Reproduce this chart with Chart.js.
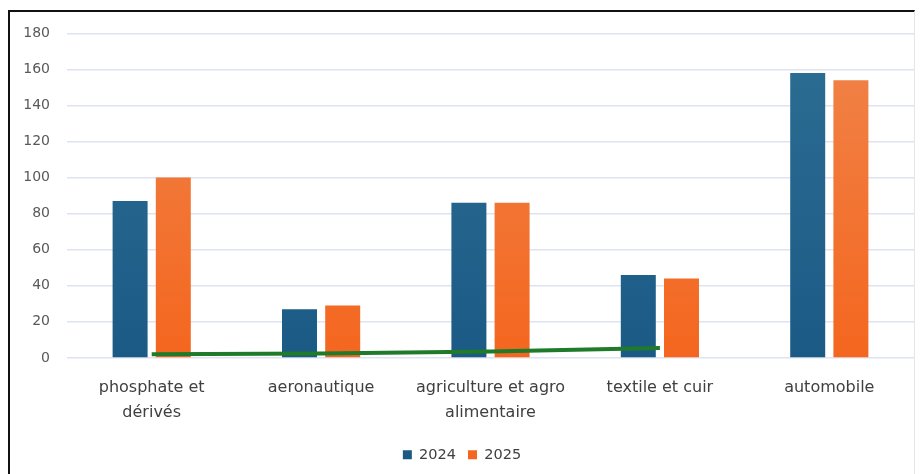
<!DOCTYPE html>
<html>
<head>
<meta charset="utf-8">
<script src="https://cdn.jsdelivr.net/npm/chart.js@4.4.1/dist/chart.umd.min.js"></script>
<style>
    html, body { margin: 0; padding: 0; background: #fff; overflow: hidden; }
    #wrap {
        position: absolute;
        left: 8px;
        top: 10px;
        width: 904px;
        height: 464px;
        border-left: 2px solid #111;
        border-top: 2px solid #111;
        border-right: 1px solid #e6e6e6;
    }
    #inner {
        position: absolute;
        left: 0;
        top: -4px;
        width: 100%;
        height: 476px;
    }
</style>
</head>
<body>
<div id="wrap"><div id="inner"><canvas id="chart"></canvas></div></div>
<script>
// Data
const categories = [
    ['phosphate et', 'dérivés'],
    ['aeronautique'],
    ['agriculture et agro', 'alimentaire'],
    ['textile et cuir'],
    ['automobile']
];
const values2024 = [87, 27, 86, 46, 158];
const values2025 = [100, 29, 86, 44, 154];
const trendLine = [2, 2.5, 3.5, 5.5, null];
const yTicks = [0, 20, 40, 60, 80, 100, 120, 140, 160, 180];

const FONT = "'DejaVu Sans', sans-serif";

// Vertical gradient for bars
function barGradient(ctx, top, bottom) {
    const chart = ctx.chart;
    const area = chart.chartArea;
    if (!area) return bottom;
    const g = chart.ctx.createLinearGradient(0, area.top, 0, area.bottom);
    g.addColorStop(0, top);
    g.addColorStop(1, bottom);
    return g;
}

new Chart(document.getElementById('chart'), {
    data: {
        labels: categories,
        datasets: [
            {
                type: 'line',
                label: 'trend',
                data: trendLine,
                borderColor: '#1f7a2a',
                borderWidth: 4,
                pointRadius: 0,
                tension: 0,
                order: 0
            },
            {
                type: 'bar',
                label: '2024',
                data: values2024,
                backgroundColor: ctx => barGradient(ctx, '#2d6e94', '#1b5a85'),
                barPercentage: 0.81,
                categoryPercentage: 0.51,
                order: 1
            },
            {
                type: 'bar',
                label: '2025',
                data: values2025,
                backgroundColor: ctx => barGradient(ctx, '#f0844a', '#f4661f'),
                barPercentage: 0.81,
                categoryPercentage: 0.51,
                order: 1
            }
        ]
    },
    options: {
        responsive: true,
        maintainAspectRatio: false,
        animation: false,
        layout: { padding: { top: 8, right: 0, left: 0, bottom: 12 } },
        plugins: {
            legend: {
                position: 'bottom',
                labels: {
                    filter: item => item.text !== 'trend',
                    boxWidth: 9,
                    boxHeight: 9,
                    padding: 12,
                    color: '#404040',
                    font: { family: FONT, size: 14.5 }
                }
            },
            tooltip: { enabled: false }
        },
        scales: {
            x: {
                grid: { display: false },
                border: { display: false },
                ticks: {
                    color: '#404040',
                    font: { family: FONT, size: 16, lineHeight: 1.55 },
                    padding: 10,
                    maxRotation: 0
                }
            },
            y: {
                min: 0,
                max: 180,
                afterBuildTicks: scale => {
                    scale.ticks = yTicks.map(v => ({ value: v }));
                },
                afterFit: scale => { scale.width = 57; },
                grid: { color: '#dde4ef', lineWidth: 1.5, drawTicks: false },
                border: { display: false },
                ticks: {
                    color: '#595959',
                    font: { family: FONT, size: 14 },
                    padding: 17
                }
            }
        }
    }
});
</script>
</body>
</html>
